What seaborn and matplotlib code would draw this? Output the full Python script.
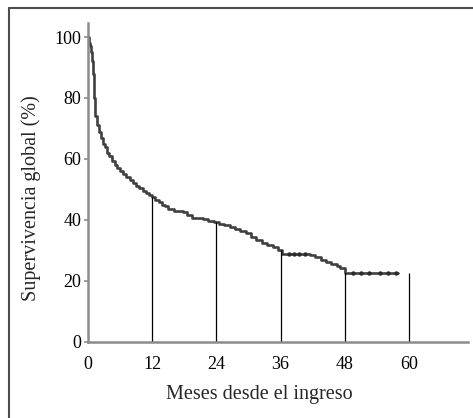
import matplotlib
matplotlib.use("Agg")
import matplotlib.pyplot as plt
from matplotlib.lines import Line2D
import numpy as np
import pandas as pd
import seaborn as sns

sns.set_theme(style="white")
plt.rcParams["font.family"] = ["Liberation Serif", "DejaVu Serif"]

# Kaplan-Meier steps (months, % alive after the step)
MONTHS = [0, 0.2, 0.4, 0.6, 0.8, 1.0, 1.2, 1.4, 1.7, 2.0, 2.4, 2.8, 3.2, 3.6,
          4.0, 4.5, 5.0, 5.5, 6.0, 6.6, 7.2, 7.8, 8.4, 9.0, 9.6, 10.2, 10.8,
          11.4, 12.0, 12.6, 13.2, 13.8, 14.4, 15.0, 16.0, 17.0, 17.8, 18.6,
          19.4, 20.5, 21.5, 22.5, 23.5, 24.5, 25.5, 26.5, 27.5, 28.5, 29.5,
          30.5, 31.5, 32.5, 33.5, 34.5, 35.5, 36.2, 41.5, 42.5, 43.5, 44.5,
          45.5, 46.5, 47.2, 48.0, 58.0]
SURVIVAL = [100, 98, 97, 95, 92, 88, 80, 74, 71, 69, 67, 65, 64, 62,
            61, 59.5, 58, 57, 56, 55, 54, 53, 52, 51, 50.5, 49.5, 49,
            48.2, 47.5, 46.6, 46, 45, 44.5, 43.5, 43, 42.8, 42.5, 41.5,
            40.8, 40.6, 40.2, 39.8, 39.4, 38.8, 38.2, 37.6, 37, 36.5, 35.6,
            34.5, 33.5, 32.5, 31.8, 31, 30.2, 29.0, 28.5, 28, 27, 26.2,
            25.5, 25, 24.3, 22.5, 22.5]
CENSORED = [37.5, 38.5, 39.5, 40.5, 49.5, 51.0, 52.5, 54.5, 56.0, 57.5]
MARK_MONTHS = [12, 24, 36, 48, 60]
X_TICKS = [0, 12, 24, 36, 48, 60]
Y_TICKS = [0, 20, 40, 60, 80, 100]


def survival_at(t):
    idx = np.searchsorted(MONTHS, t, side="right") - 1
    return SURVIVAL[max(idx, 0)]


km = pd.DataFrame({"meses": MONTHS, "supervivencia": SURVIVAL})
cens = pd.DataFrame({"meses": CENSORED,
                     "supervivencia": [survival_at(t) for t in CENSORED]})

fig = plt.figure(figsize=(4.73, 4.18), dpi=100)
ax = fig.add_axes([0.186, 0.182, 0.803, 0.763])

sns.lineplot(data=km, x="meses", y="supervivencia", drawstyle="steps-post",
             estimator=None, sort=False, color="#2b2b2b", linewidth=1.9,
             alpha=0.9, ax=ax)
sns.scatterplot(data=cens, x="meses", y="supervivencia", color="#2b2b2b",
                s=10, linewidth=0, ax=ax)

ax.vlines(MARK_MONTHS, 0, [survival_at(t) for t in MARK_MONTHS],
          color="black", linewidth=0.9)

ax.set_xlim(0, 71)
ax.set_ylim(0, 104.6)
ax.set_xticks(X_TICKS)
ax.set_yticks(Y_TICKS)
ax.tick_params(axis="x", length=0, pad=10, labelsize=13, colors="black")
ax.tick_params(axis="y", length=3, width=1.2, pad=2, labelsize=13,
               color="#8c8c8c", labelcolor="black", left=True)

for side in ["top", "right"]:
    ax.spines[side].set_visible(False)
for side in ["left", "bottom"]:
    ax.spines[side].set_color("#8c8c8c")
    ax.spines[side].set_linewidth(1.8)

ax.set_xlabel("Meses desde el ingreso", fontsize=14.5)
ax.set_ylabel("Supervivencia global (%)", fontsize=14.5)
ax.xaxis.set_label_coords(0.45, -0.135)
ax.yaxis.set_label_coords(-0.125, 0.45)

# frame: only the left and top edges show in the picture
fig.add_artist(Line2D([0.019, 0.019], [0.981, 0.0], transform=fig.transFigure,
                      color="#4d4d4d", linewidth=1.5))
fig.add_artist(Line2D([0.019, 1.0], [0.981, 0.981], transform=fig.transFigure,
                      color="#4d4d4d", linewidth=1.5))

fig.savefig("out.png", dpi=100)
